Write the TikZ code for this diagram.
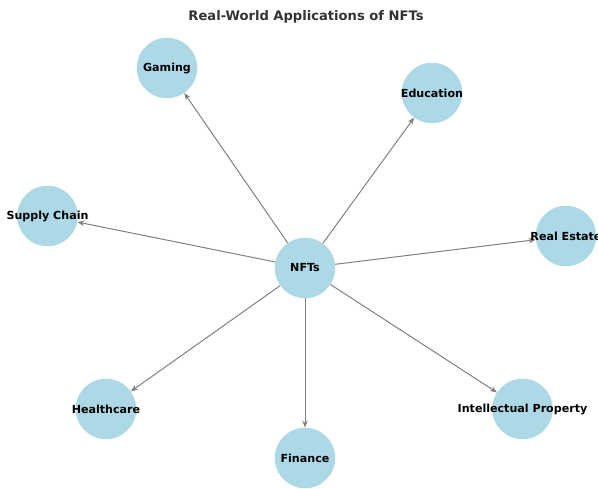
\documentclass[tikz,border=0pt]{standalone}
\usepackage{fontspec}
\setmainfont{DejaVu Sans}
\usetikzlibrary{arrows.meta}
\definecolor{nodefill}{HTML}{ADD8E6}
\definecolor{edgegray}{HTML}{808080}
\begin{document}
\begin{tikzpicture}[x=1pt,y=-1pt,
  topic/.style={circle,fill=nodefill,draw=none,minimum size=60.5pt,inner sep=0pt},
  lbl/.style={font=\fontsize{11.1}{13}\selectfont\bfseries,text=black,inner sep=0pt},
  link/.style={draw=edgegray,line width=1pt,-{Stealth[length=7pt,width=5.5pt]}}]
\useasboundingbox (0,0) rectangle (598,489);
\clip (0,0) rectangle (598,489);
\node[font=\fontsize{13.1}{15}\selectfont\bfseries,text=black!80] (title) at (306,17) {Real-World Applications of NFTs};
\node[topic] (nfts) at (305,268) {};
\node[topic] (gaming) at (167,68) {};
\node[topic] (edu) at (432,93) {};
\node[topic] (supply) at (47.5,216) {};
\node[topic] (estate) at (566,236) {};
\node[topic] (health) at (106,409) {};
\node[topic] (finance) at (305,458) {};
\node[topic] (ip) at (522.5,409) {};
\foreach \t in {gaming,edu,supply,estate,health,finance,ip}
  \draw[link] (nfts) -- (\t);
\node[lbl] (tnfts) at (nfts) {NFTs};
\node[lbl] (tgaming) at (gaming) {Gaming};
\node[lbl] (tedu) at (edu) {Education};
\node[lbl] (tsupply) at (supply) {Supply Chain};
\node[lbl] (testate) at (estate) {Real Estate};
\node[lbl] (thealth) at (health) {Healthcare};
\node[lbl] (tfinance) at (finance) {Finance};
\node[lbl] (tip) at (ip) {Intellectual Property};
\end{tikzpicture}
\end{document}
